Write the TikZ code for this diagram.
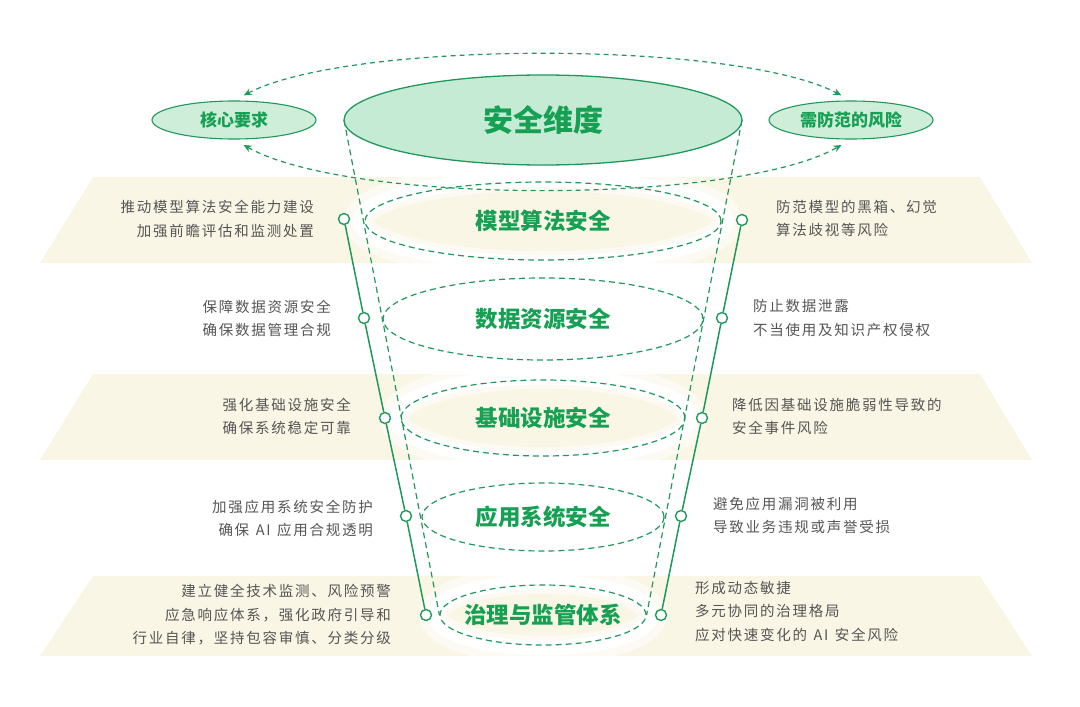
\documentclass[tikz,border=0pt]{standalone}
\usepackage{fontspec}
\setmainfont{Noto Sans CJK SC}
\newfontfamily\notefont[LetterSpace=12]{Noto Sans CJK SC}
\usetikzlibrary{shapes.geometric,arrows.meta}

\pgfdeclarelayer{bands}
\pgfdeclarelayer{halo}
\pgfsetlayers{bands,halo,main}
\def\bands{177/263, 374/460, 576/656}
\def\layers{{(543,221)/356/78/algo/模型算法安全}, {(543,319)/320/82/data/数据资源安全}, {(543,418)/284/76/infra/基础设施安全}, {(543,517)/242/68/app/应用系统安全}, {(543,615)/206/60/gov/治理与监管体系}}
\def\leftrail{{(344,219)/l1}, {(364,318)/l2}, {(385,418)/l3}, {(406,516)/l4}, {(426,615)/l5}}
\def\rightrail{{(742,220)/r1}, {(722,318)/r2}, {(702,418)/r3}, {(681,516)/r4}, {(661,615)/r5}}
\def\gapAI{\hspace{0.45em}AI\hspace{0.45em}}
\definecolor{leaf}{RGB}{32,152,92}
\definecolor{leaf text}{RGB}{22,160,84}
\definecolor{mint}{RGB}{198,235,212}
\colorlet{side mint}{mint!85!white}
\definecolor{sand}{RGB}{250,246,229}
\definecolor{note gray}{RGB}{85,85,85}
\tikzset{
  band/.style={fill=sand},
  halo/.style={ellipse, draw=white, inner sep=0pt},
  dash edge/.style={draw=leaf, line width=1.2pt, dash pattern=on 6pt off 4pt}
  }
\tikzstyle{hub}=[ellipse, draw=leaf, line width=1.3pt, fill=mint, inner sep=0pt, text=leaf text, font=\bfseries\fontsize{30}{34}\selectfont]
\tikzstyle{side}=[ellipse, draw=leaf, line width=1.1pt, fill=side mint, inner sep=0pt, text=leaf text, font=\bfseries\fontsize{17}{20}\selectfont]
\tikzstyle{layer}=[ellipse, dash edge, inner sep=0pt]
\tikzstyle{layer label}=[text=leaf text, font=\bfseries\fontsize{22.5}{26}\selectfont]
\tikzstyle{rail}=[draw=leaf, line width=1.5pt]
\tikzstyle{dot}=[circle, draw=leaf, line width=1.4pt, fill=white, minimum size=11pt, inner sep=0pt]
\tikzstyle{note}=[font=\notefont\fontsize{14.5}{23.5}\selectfont, text=note gray, inner sep=0pt]
\tikzstyle{swap}=[dash edge, dash pattern=on 5pt off 4pt, {Stealth[length=8pt,width=7pt]}-{Stealth[length=8pt,width=7pt]}, shorten <=11pt, shorten >=11pt]

\begin{document}
\begin{tikzpicture}[x=1pt, y=-1pt]
  \useasboundingbox (0,0) rectangle (1080,707);

  % The bands behind the layers
  \begin{pgfonlayer}{bands}
    \foreach \ya/\yb in \bands
    \fill[band] (93,\ya) -- (980,\ya) -- (1032,\yb) -- (40,\yb) -- cycle;
  \end{pgfonlayer}

  % The layers of the funnel
  \foreach \pos/\w/\h/\name/\txt in \layers {
    \begin{pgfonlayer}{halo}
      \node[halo, line width=28pt, draw opacity=0.5, minimum width=\w+14, minimum height=\h+10] at \pos {};
      \node[halo, line width=15pt, minimum width=\w+10, minimum height=\h+6] at \pos {};
    \end{pgfonlayer}
    \node[layer, minimum width=\w, minimum height=\h] (\name) at \pos {};
    \node[layer label] at (\name.center) {\txt};
  }

  % The sides of the funnel
  \path[dash edge] (543-199,120) coordinate (hub-w) -- (gov.west);
  \path[dash edge] (543+199,120) coordinate (hub-e) -- (gov.east);

  % The top row
  \node[hub, minimum width=398pt, minimum height=90pt] (top) at (543,120) {安全维度};
  \node[side, minimum width=164pt, minimum height=38pt] (core) at (234,120) {核心要求};
  \node[side, minimum width=164pt, minimum height=38pt] (risk) at (851,120) {需防范的风险};
  \draw[swap] (core.north) .. controls (350,40) and (736,40) .. (risk.north);
  \draw[swap] (core.south) .. controls (350,205) and (736,205) .. (risk.south);

  % The rails with their dots
  \foreach \pos/\name in \leftrail
    \node[dot] (\name) at \pos {};
  \foreach \pos/\name in \rightrail
    \node[dot] (\name) at \pos {};
  \path[rail] (l1) -- (l2) -- (l3) -- (l4) -- (l5);
  \path[rail] (r1) -- (r2) -- (r3) -- (r4) -- (r5);

  % What each layer asks for
  \node[note, anchor=east, align=right] (ask1) at (314,219) {推动模型算法安全能力建设\\加强前瞻评估和监测处置};
  \node[note, anchor=east, align=right] (ask2) at (331,318.5) {保障数据资源安全\\确保数据管理合规};
  \node[note, anchor=east, align=right] (ask3) at (351,416.5) {强化基础设施安全\\确保系统稳定可靠};
  \node[note, anchor=east, align=right] (ask4) at (373,518.5) {加强应用系统安全防护\\确保\gapAI 应用合规透明};
  \node[note, anchor=east, align=right] (ask5) at (391,615) {建立健全技术监测、风险预警\\应急响应体系，强化政府引导和\\行业自律，坚持包容审慎、分类分级};

  % What each layer guards against
  \node[note, anchor=west, align=left] (guard1) at (776,218.5) {防范模型的黑箱、幻觉\\算法歧视等风险};
  \node[note, anchor=west, align=left] (guard2) at (753,318) {防止数据泄露\\不当使用及知识产权侵权};
  \node[note, anchor=west, align=left] (guard3) at (732,416.5) {降低因基础设施脆弱性导致的\\安全事件风险};
  \node[note, anchor=west, align=left] (guard4) at (713,515.5) {避免应用漏洞被利用\\导致业务违规或声誉受损};
  \node[note, anchor=west, align=left] (guard5) at (695,611.5) {形成动态敏捷\\多元协同的治理格局\\应对快速变化的\gapAI 安全风险};
\end{tikzpicture}
\end{document}
